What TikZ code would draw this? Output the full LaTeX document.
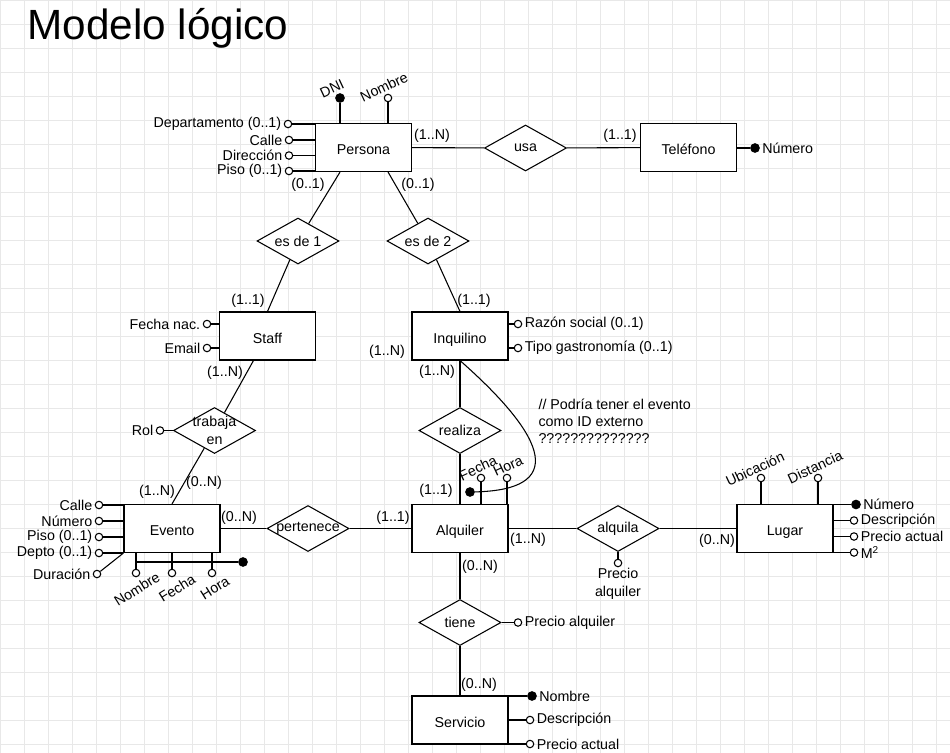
\documentclass[tikz,border=0pt]{standalone}
\usepackage{fontspec}
\setmainfont{Liberation Sans}
\usetikzlibrary{shapes.geometric}

\begin{document}
\begin{tikzpicture}[x=0.75pt, y=-0.75pt, line width=0.8pt,
    font=\fontsize{10.7}{13.5}\selectfont,
    entity/.style={rectangle, draw, fill=white, minimum width=72pt, minimum height=36pt, inner sep=0pt, text height=11pt, text depth=0pt},
    relation/.style={diamond, draw, fill=white, minimum width=61.5pt, minimum height=34.5pt, inner sep=0pt},
    attr/.style={circle, draw, fill=white, inner sep=0pt, minimum size=5.6pt},
    keyattr/.style={circle, draw, fill=black, inner sep=0pt, minimum size=6.4pt},
    card/.style={inner sep=0pt},
    every label/.style={inner sep=1.5pt},
    gridline/.style={draw=gray!18, line width=0.5pt}]
\useasboundingbox[fill=white] (0,0) rectangle (950,753);
\draw[gridline] (0,753) grid[step=18pt] (950,0);

\node[anchor=base west, inner sep=0pt, font=\fontsize{31.7}{36}\selectfont] (titulo) at (27,40) {Modelo lógico};

% entidades
\node[entity] (persona) at (363.5,147.5) {Persona};
\node[entity] (telefono) at (688.5,147.5) {Teléfono};
\node[entity] (staff) at (267.5,336) {Staff};
\node[entity] (inquilino) at (460,336) {Inquilino};
\node[entity] (evento) at (172,528.5) {Evento};
\node[entity] (alquiler) at (460,528.5) {Alquiler};
\node[entity] (lugar) at (785,528.5) {Lugar};
\node[entity] (servicio) at (460,720) {Servicio};

% relaciones
\node[relation, label=center:usa] (usa) at (525.5,148) {};
\node[relation, label=center:es de 1] (esde1) at (298,241) {};
\node[relation, label=center:es de 2] (esde2) at (428,241) {};
\node[relation, label={[align=center]center:trabaja\\en}] (trabaja) at (214.5,430.5) {};
\node[relation, label=center:realiza] (realiza) at (460,430.5) {};
\node[relation, label=center:pertenece] (pertenece) at (308,528.5) {};
\node[relation, label=center:alquila] (alquila) at (618,528.5) {};
\node[relation, label=center:tiene] (tiene) at (460,622.5) {};

\begin{scope}[every edge/.style={draw=black}]
    \path (persona) edge (usa);
    \path (usa) edge (telefono);
    \path ([xshift=-17.6pt]persona.south) edge (esde1);
    \path (esde1) edge (staff.north);
    \path ([xshift=18.4pt]persona.south) edge (esde2);
    \path (esde2) edge (inquilino.north);
    \path ([xshift=-10.5pt]staff.south) edge (trabaja);
    \path (trabaja) edge (evento.north);
    \path (inquilino) edge (realiza);
    \path (realiza) edge (alquiler);
    \path (evento) edge (pertenece);
    \path (pertenece) edge (alquiler);
    \path (alquiler) edge (alquila);
    \path (alquila) edge (lugar);
    \path (alquiler) edge (tiene);
    \path (tiene) edge (servicio);
\end{scope}

% atributos de Persona
\node[keyattr] (pdni) at (340,98) {};
\node[attr] (pnom) at (388,98) {};
\node[rotate=25] (tpdni) at ([shift={(-8,-9.5)}]pdni) {DNI};
\node[rotate=25] (tpnom) at ([shift={(-4,-11)}]pnom) {Nombre};
\node[attr, label={180:Departamento (0..1)}] (pdep) at (288,124) {};
\node[attr, label={180:Calle}] (pcalle) at (289,140) {};
\node[attr, label={180:Dirección}] (pdir) at (289,155.5) {};
\node[attr, label={180:Piso (0..1)}] (ppiso) at (289,171) {};
\draw (pdni) -- (pdni |- persona.north);
\draw (pnom) -- (pnom |- persona.north);
\draw (pdep) -- (pdep -| persona.west);
\draw (pcalle) -- (pcalle -| persona.west);
\draw (pdir) -- (pdir -| persona.west);
\draw (ppiso) -- (ppiso -| persona.west);

% atributos de Telefono
\node[keyattr, label={0:Número}] (tnum) at (755,148) {};
\draw (tnum) -- (tnum -| telefono.east);

% atributos de Staff e Inquilino
\node[attr, label={180:Fecha nac.}] (sfecha) at (207,324) {};
\node[attr, label={180:Email}] (semail) at (207,348) {};
\draw (sfecha) -- (sfecha -| staff.west);
\draw (semail) -- (semail -| staff.west);
\node[attr, label={0:Razón social (0..1)}] (irazon) at (518,324) {};
\node[attr, label={0:Tipo gastronomía (0..1)}] (itipo) at (518,348) {};
\draw (irazon) -- (irazon -| inquilino.east);
\draw (itipo) -- (itipo -| inquilino.east);

% atributo de trabaja en
\node[attr, label={180:Rol}] (trol) at (160,430.5) {};
\draw (trol) -- (trabaja.west);

% atributos de Evento
\node[attr, label={180:Calle}] (ecalle) at (99,505) {};
\node[attr, label={180:Número}] (enum) at (99,521) {};
\node[attr, label={180:Piso (0..1)}] (episo) at (99,537) {};
\node[attr, label={180:Depto (0..1)}] (edepto) at (99,553) {};
\node[attr, label={180:Duración}] (edur) at (97,574) {};
\draw (ecalle) -- (ecalle -| evento.west);
\draw (enum) -- (enum -| evento.west);
\draw (episo) -- (episo -| evento.west);
\draw (edepto) -- (edepto -| evento.west);
\draw (edur) -- (evento.south west);
\node[attr] (enom) at (136,573) {};
\node[attr] (efecha) at (172,573) {};
\node[attr] (ehora) at (212,573) {};
\node[keyattr] (ekey) at (243,562) {};
\node[rotate=32] (tenom) at ([shift={(1,16)}]enom) {Nombre};
\node[rotate=32] (tefecha) at ([shift={(5,15)}]efecha) {Fecha};
\node[rotate=32] (tehora) at ([shift={(3,15)}]ehora) {Hora};
\draw (enom) -- (enom |- evento.south);
\draw (efecha) -- (efecha |- evento.south);
\draw (ehora) -- (ehora |- evento.south);
\draw (enom |- ekey) -- (ekey);

% atributos de Alquiler
\node[keyattr] (akey) at (470,492) {};
\node[attr] (afecha) at (481,478) {};
\node[attr] (ahora) at (507,478) {};
\node[rotate=25] (tafecha) at ([shift={(-3,-10)}]afecha) {Fecha};
\node[rotate=25] (tahora) at ([shift={(1,-12)}]ahora) {Hora};
\draw (afecha) -- (afecha |- alquiler.north);
\draw (ahora) -- (ahora |- alquiler.north);
\draw (inquilino.south) .. controls (550,440) and (565,490) .. (akey);
\node[anchor=north west, align=left, inner sep=0pt, font=\fontsize{10.7}{12.75}\selectfont] (nota) at (538,398) {// Podría tener el evento\\como ID externo\\??????????????};

% atributo de alquila
\node[attr, label={[align=center, inner sep=0.5pt]below:Precio\\alquiler}] (aprecio) at (618,563) {};
\draw (aprecio) -- (alquila.south);

% atributos de Lugar
\node[attr] (lubi) at (761,478) {};
\node[attr] (ldist) at (818,478) {};
\node[rotate=25] (tlubi) at ([shift={(-6,-9)}]lubi) {Ubicación};
\node[rotate=25] (tldist) at ([shift={(-3,-11)}]ldist) {Distancia};
\draw (lubi) -- (lubi |- lugar.north);
\draw (ldist) -- (ldist |- lugar.north);
\node[keyattr, label={0:Número}] (lnum) at (856,504.5) {};
\node[attr, label={0:Descripción}] (ldesc) at (854,520.5) {};
\node[attr, label={0:Precio actual}] (lprecio) at (854,536.5) {};
\node[attr, label={0:M\textsuperscript{2}}] (lm2) at (854,552.5) {};
\draw (lnum) -- (lnum -| lugar.east);
\draw (ldesc) -- (ldesc -| lugar.east);
\draw (lprecio) -- (lprecio -| lugar.east);
\draw (lm2) -- (lm2 -| lugar.east);

% atributos de tiene y Servicio
\node[attr, label={0:Precio alquiler}] (tprecio) at (518,622.5) {};
\draw (tprecio) -- (tiene.east);
\node[keyattr, label={0:Nombre}] (snom) at (532,696) {};
\node[attr, label={0:Descripción}] (sdesc) at (530,720) {};
\node[attr, label={0:Precio actual}] (sprecio) at (530,744) {};
\draw (snom) -- (snom -| servicio.east);
\draw (sdesc) -- (sdesc -| servicio.east);
\draw (sprecio) -- (sprecio -| servicio.east);

% cardinalidades
\node[card] (cpu) at (432,136) {(1..N)};
\node[card] (cut) at (620,136) {(1..1)};
\node[card] (cp1) at (308,185) {(0..1)};
\node[card] (cp2) at (418,185) {(0..1)};
\node[card] (cs1) at (248,301) {(1..1)};
\node[card] (ci1) at (474,301) {(1..1)};
\node[card] (cil) at (387,352) {(1..N)};
\node[card] (cir) at (437,372) {(1..N)};
\node[card] (cst) at (225,373) {(1..N)};
\node[card] (cte) at (204,483) {(0..N)};
\node[card] (cet) at (157,492) {(1..N)};
\node[card] (cep) at (239,518) {(0..N)};
\node[card] (car) at (436,491) {(1..1)};
\node[card] (cap) at (393,518) {(1..1)};
\node[card] (cal) at (528,540) {(1..N)};
\node[card] (cat) at (480,567) {(0..N)};
\node[card] (clu) at (717,541) {(0..N)};
\node[card] (cse) at (479,685) {(0..N)};
\end{tikzpicture}
\end{document}
